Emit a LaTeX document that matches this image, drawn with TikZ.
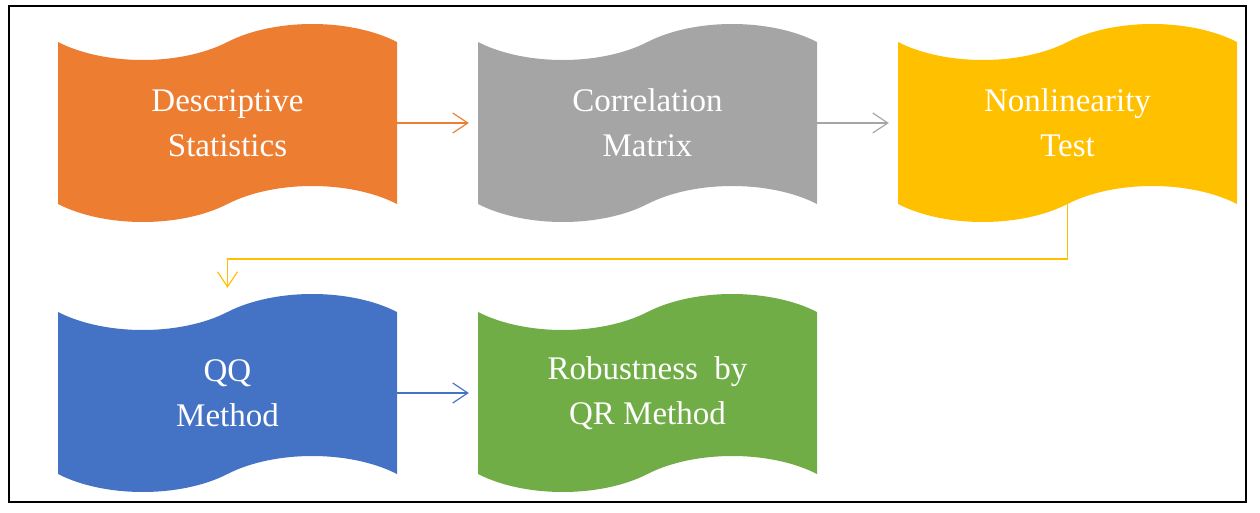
\documentclass[tikz,border=0pt]{standalone}
\usepackage{fontspec}
\setmainfont{Liberation Serif}
\usetikzlibrary{arrows.meta,positioning,shapes.symbols}

\definecolor{descorange}{HTML}{ED7D31}
\definecolor{corrgray}{HTML}{A5A5A5}
\definecolor{testgold}{HTML}{FFC000}
\definecolor{qqblue}{HTML}{4472C4}
\definecolor{qrgreen}{HTML}{70AD47}

\tikzset{
  tapebox/.style={shape=tape, draw=none, fill=#1, text=white, align=center,
    minimum width=339pt, minimum height=198pt, tape bend height=36pt,
    inner sep=0pt, font=\fontsize{33pt}{45pt}\selectfont},
  flowarrow/.style={draw=#1, line width=1.3pt, shorten >=9pt,
    -{Straight Barb[length=15pt,width=20pt,line width=1.2pt]}}
}

\begin{document}
\begin{tikzpicture}[x=1pt, y=1pt, node distance=420pt]
\useasboundingbox (0,0) rectangle (1260,512);
\draw[line width=2pt] (9,10) rectangle (1246,506);

\node (A) [tapebox=descorange] at (227.5,389) {Descriptive\\Statistics};
\node (B) [tapebox=corrgray, right of = A] {Correlation\\Matrix};
\node (C) [tapebox=testgold, right of = B] {Nonlinearity\\Test};
\node (D) [tapebox=qqblue, below of = A, node distance=270pt] {QQ\\Method};
\node (E) [tapebox=qrgreen, right of = D] {Robustness\ \ by\\QR Method};

\draw[flowarrow=descorange] (A.east) -- (B.west);
\draw[flowarrow=corrgray] (B.east) -- (C.west);
\draw[flowarrow=qqblue] (D.east) -- (E.west);
\draw[flowarrow=testgold, line width=1.8pt, shorten >=24pt] (C.south) -- ++(0,-55pt) -| (D.north);

\end{tikzpicture}
\end{document}
